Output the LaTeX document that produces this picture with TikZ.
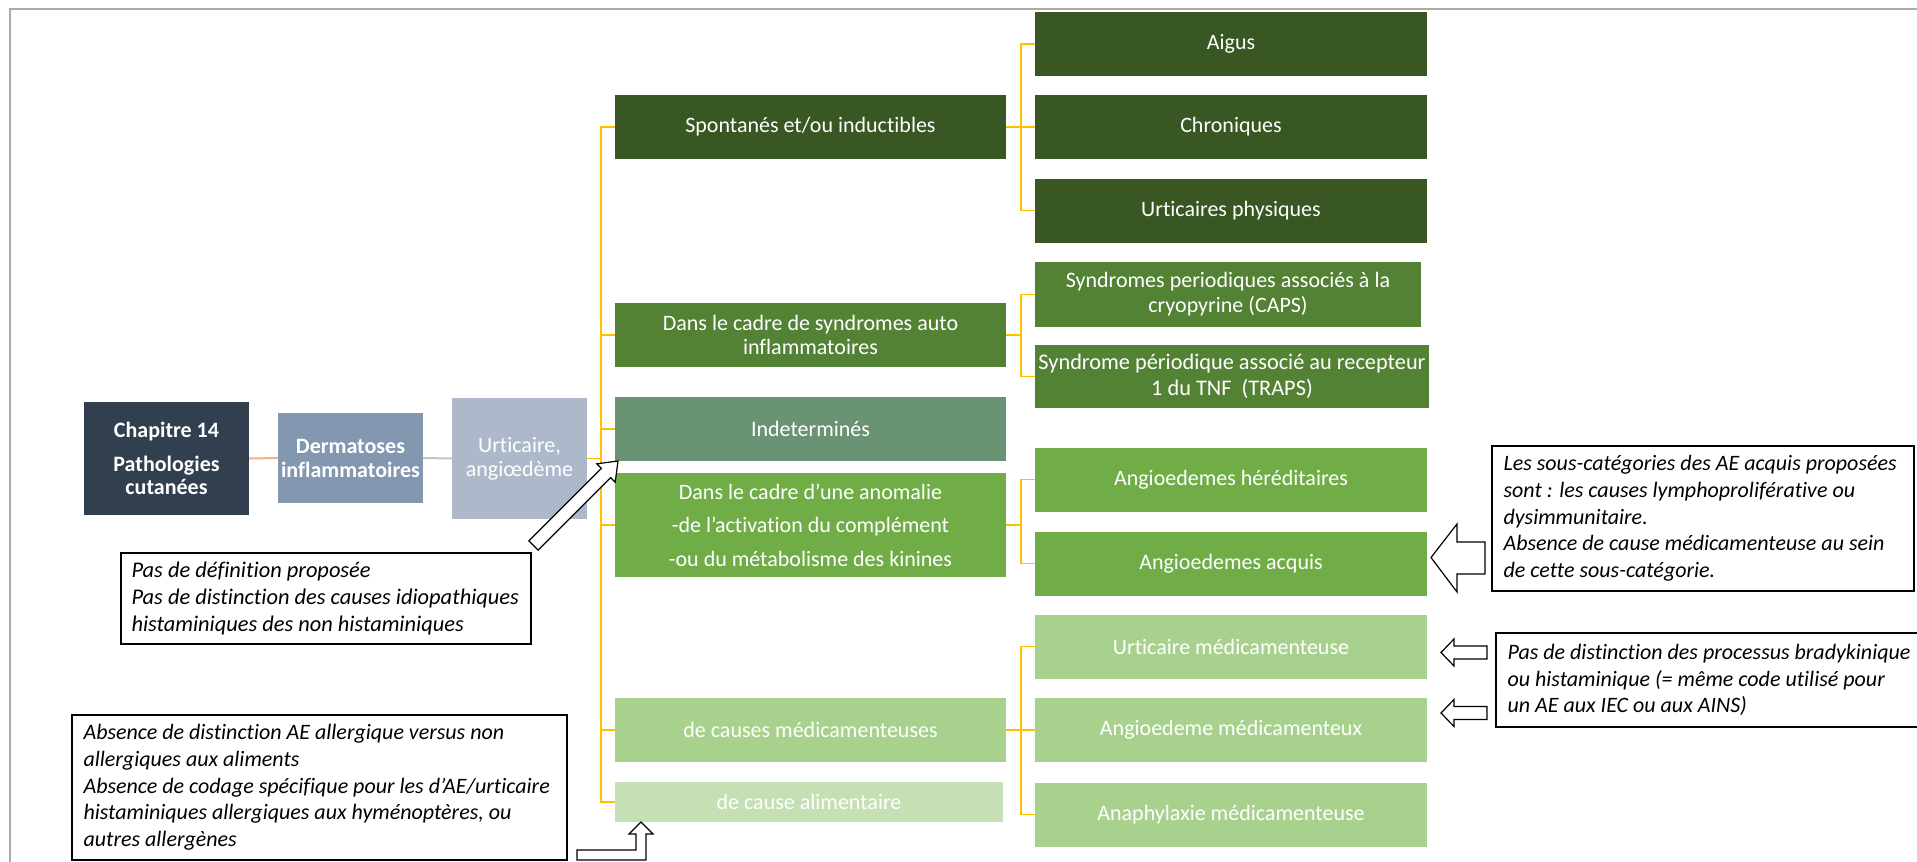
\documentclass[tikz,border=0pt]{standalone}
\usepackage{fontspec}
\setmainfont{Carlito}[Ligatures=NoCommon]
\definecolor{chapc}{HTML}{323F4F}
\definecolor{dermc}{HTML}{8497B0}
\definecolor{urtc}{HTML}{ADB9CA}
\definecolor{gA}{HTML}{385723}
\definecolor{gB}{HTML}{548235}
\definecolor{gI}{HTML}{6A9373}
\definecolor{gC}{HTML}{70AD47}
\definecolor{gD}{HTML}{A9D18E}
\definecolor{gE}{HTML}{C5E0B4}
\definecolor{brkc}{HTML}{FFC000}
\definecolor{orc}{HTML}{F4B183}
\definecolor{grc}{HTML}{C4C4C4}
\definecolor{framec}{HTML}{ABABAB}
\begin{document}
\begin{tikzpicture}[x=1pt,y=-1pt,
  box/.style={rectangle, inner sep=0pt, align=center, text=white, font=\fontsize{22}{24}\selectfont},
  lvtwo/.style={box, minimum width=391, minimum height=64},
  lvthree/.style={box, minimum width=392, minimum height=64},
  brk/.style={draw=brkc, line width=1.6pt, line join=miter},
  callout/.style={draw=black, line width=1.3pt, fill=white, inner sep=0pt},
  ctext/.style={anchor=west, align=left, inner sep=0pt, font=\fontsize{22}{26.7}\selectfont\itshape},
  barrow/.style={draw=black, line width=1.2pt, fill=white, line join=miter},
]
\useasboundingbox (0,0) rectangle (1917,862);
\fill[white] (0,0) rectangle (1917,862);
\draw[framec, line width=2pt] (10,880) -- (10,9) -- (1940,9);

% level 0
\node[box, fill=chapc, minimum width=165, minimum height=113, font=\fontsize{22}{23}\selectfont\bfseries] (chap) at (166.5,458.5) {Chapitre 14\\[11pt]Pathologies\\cutanées};
\node[box, fill=dermc, minimum width=145, minimum height=90, font=\fontsize{22}{24}\selectfont\bfseries] (derm) at (350.5,458) {Dermatoses\\inflammatoires};
\node[box, fill=urtc, minimum width=135, minimum height=121, font=\fontsize{22}{24}\selectfont] (urt) at (519.5,458.5) {Urticaire,\\angiœdème};

% level 2
\node[lvtwo, fill=gA] (sp) at (810.5,127) {Spontanés et/ou inductibles};
\node[lvtwo, fill=gB] (sa) at (810.5,335) {Dans le cadre de syndromes auto\\inflammatoires};
\node[lvtwo, fill=gI] (ind) at (810.5,429) {Indeterminés};
\node[lvtwo, fill=gC, minimum height=104, font=\fontsize{22}{33.5}\selectfont] (an) at (810.5,525) {Dans le cadre d’une anomalie\\-de l’activation du complément\\-ou du métabolisme des kinines};
\node[lvtwo, fill=gD] (med) at (810.5,730) {de causes médicamenteuses};
\node[lvtwo, fill=gE, minimum width=388, minimum height=40] (ali) at (809,802) {de cause alimentaire};

% level 3
\node[lvthree, fill=gA] (aig) at (1231,44) {Aigus};
\node[lvthree, fill=gA] (chr) at (1231,127) {Chroniques};
\node[lvthree, fill=gA] (uph) at (1231,210.5) {Urticaires physiques};
\node[lvthree, fill=gB, minimum width=386, minimum height=65, font=\fontsize{22}{25}\selectfont] (caps) at (1228,294.5) {Syndromes periodiques associés à la\\cryopyrine (CAPS)};
\node[lvthree, fill=gB, minimum width=394, minimum height=63, font=\fontsize{22.3}{26.5}\selectfont] (traps) at (1232,376.5) {Syndrome périodique associé au recepteur\\1 du TNF\ \ (TRAPS)};
\node[lvthree, fill=gC] (her) at (1231,479.5) {Angioedemes héréditaires};
\node[lvthree, fill=gC] (acq) at (1231,563.5) {Angioedemes acquis};
\node[lvthree, fill=gD] (umed) at (1231,646.5) {Urticaire médicamenteuse};
\node[lvthree, fill=gD] (amed) at (1231,730) {Angioedeme médicamenteux};
\node[lvthree, fill=gD] (ana) at (1231,814.5) {Anaphylaxie médicamenteuse};

% connectors
\coordinate (j1) at (601,458.5);
\coordinate (j2) at (1021,0);
\draw[orc, line width=2pt] (chap.east) -- (derm.west);
\draw[grc, line width=2pt] (derm.east) -- (urt.west);
\draw[brk] (urt.east) -- (j1);
\draw[brk] (sp.west) -- (sp.west -| j1) -- (ali.west -| j1) -- (ali.west);
\foreach \n in {sa,ind,an,med} \draw[brk] (\n.west -| j1) -- (\n.west);
\foreach \p/\a/\b in {sp/aig/uph, sa/caps/traps, an/her/acq, med/umed/ana} {
  \draw[brk] (\p.east) -- (\p.east -| j2);
  \draw[brk] (\a.west) -- (\a.west -| j2) -- (\b.west -| j2) -- (\b.west);
}
\foreach \c in {chr,amed} \draw[brk] (\c.west -| j2) -- (\c.west);

% callouts
\node[callout, minimum width=410, minimum height=91] (c1) at (326,598.5) {};
\node[ctext, font=\fontsize{22.4}{26.7}\selectfont\itshape] (t1) at ([xshift=11]c1.west) {Pas de définition proposée\\Pas de distinction des causes idiopathiques\\histaminiques des non histaminiques};

\node[callout, minimum width=495, minimum height=145] (c4) at (319.5,787.5) {};
\node[ctext] (t4) at ([xshift=12]c4.west) {Absence de distinction AE allergique versus non\\allergiques aux aliments\\Absence de codage spécifique pour les d’AE/urticaire\\histaminiques allergiques aux hyménoptères, ou\\autres allergènes};

\node[callout, minimum width=422, minimum height=145] (c2) at (1703,518.5) {};
\node[ctext] (t2) at ([xshift=12]c2.west) {Les sous-catégories des AE acquis proposées\\sont : les causes lymphoproliférative ou\\dysimmunitaire.\\Absence de cause médicamenteuse au sein\\de cette sous-catégorie.};

\node[callout, minimum width=429, minimum height=94] (c3) at (1710.5,680) {};
\node[ctext] (t3) at ([xshift=12]c3.west) {Pas de distinction des processus bradykinique\\ou histaminique (= même code utilisé pour\\un AE aux IEC ou aux AINS)};

% block arrows
\draw[barrow] (538.1,550.1) -- (528.9,540.9) -- (601.4,468.4) -- (596.8,463.8) -- (618,461) -- (615.2,482.2) -- (610.6,477.6) -- cycle;
\coordinate (a2) at (1431,557.5);
\draw[barrow] (a2) -- ++(26,-33.5) -- ++(0,18) -- ++(28,0) -- ++(0,32) -- ++(-28,0) -- ++(0,18) -- cycle;
\coordinate (a3) at (1441,652.5);
\draw[barrow] (a3) -- ++(13,-13.5) -- ++(0,7) -- ++(33,0) -- ++(0,13) -- ++(-33,0) -- ++(0,7) -- cycle;
\coordinate (a4) at (1441,713);
\draw[barrow] (a4) -- ++(13,-13.5) -- ++(0,7) -- ++(33,0) -- ++(0,13) -- ++(-33,0) -- ++(0,7) -- cycle;
\coordinate (a5) at (641,822);
\draw[barrow] (a5) -- (653,834) -- (646,834) -- (646,860) -- (577,860) -- (577,850) -- (636,850) -- (636,834) -- (629,834) -- cycle;
\end{tikzpicture}
\end{document}
